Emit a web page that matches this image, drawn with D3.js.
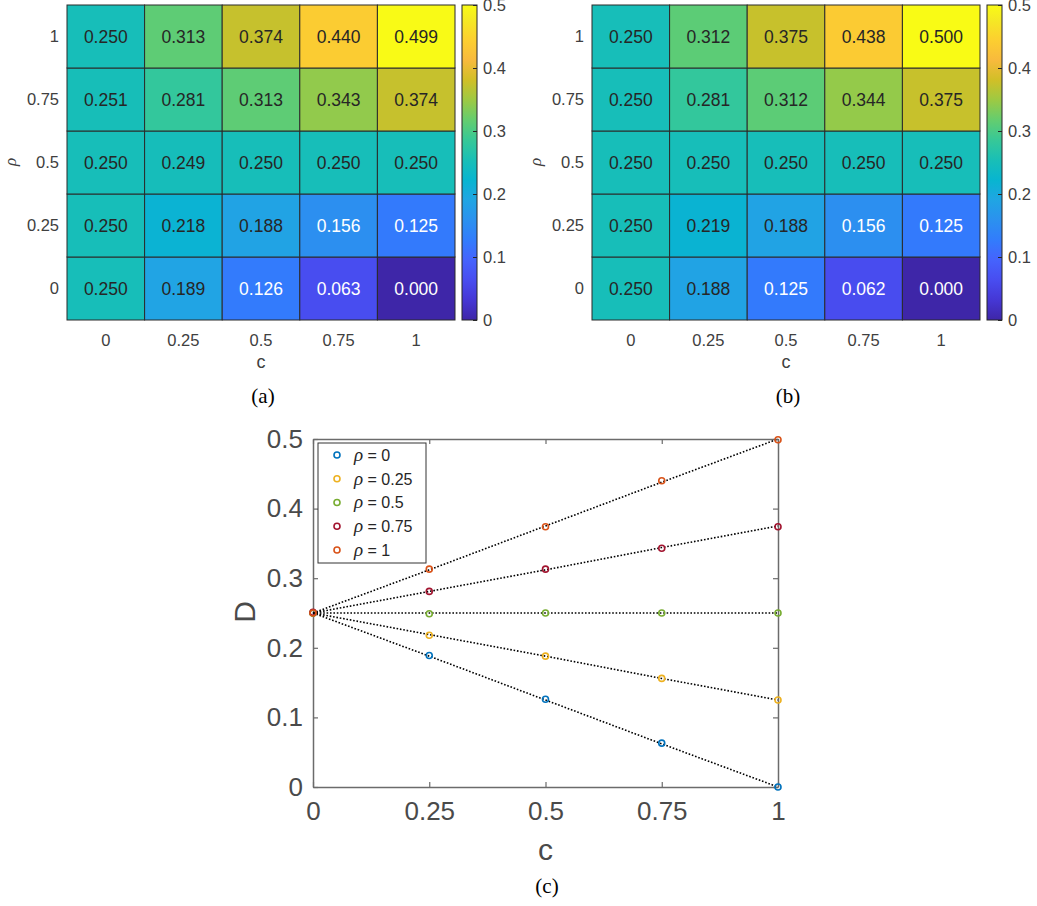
<!DOCTYPE html>
<html>
<head>
<meta charset="utf-8">
<script src="https://cdn.jsdelivr.net/npm/d3@7"></script>
<style>
body{margin:0;background:#fff}
</style>
</head>
<body>
<svg width="1037" height="906" font-family="Liberation Sans, Arial, sans-serif"></svg>
<script>
// data
var cVals=[0,0.25,0.5,0.75,1];
var cLabels=['0','0.25','0.5','0.75','1'];
var rhoLabels=['0','0.25','0.5','0.75','1'];
// rows = rho 0..1, columns = c 0..1
var simD=[[0.250,0.189,0.126,0.063,0.000],
          [0.250,0.218,0.188,0.156,0.125],
          [0.250,0.249,0.250,0.250,0.250],
          [0.251,0.281,0.313,0.343,0.374],
          [0.250,0.313,0.374,0.440,0.499]];
var theoD=[[0.250,0.188,0.125,0.062,0.000],
           [0.250,0.219,0.188,0.156,0.125],
           [0.250,0.250,0.250,0.250,0.250],
           [0.250,0.281,0.312,0.344,0.375],
           [0.250,0.312,0.375,0.438,0.500]];
var cbTicks=[0,0.1,0.2,0.3,0.4,0.5];
var dTicks=[0,0.1,0.2,0.3,0.4,0.5];
var legendNames=['0','0.25','0.5','0.75','1'];
var seriesColors=['#0072BD','#EDB120','#77AC30','#A2142F','#D95319'];

// parula colour table (every 4th entry)
var parula=[[0.2422,0.1504,0.6603],[0.2706,0.2147,0.8364],[0.2813,0.3006,0.9414],[0.2699,0.3892,0.9906],
 [0.1963,0.4847,0.9892],[0.1687,0.5703,0.9359],[0.1248,0.6459,0.8883],[0.0297,0.7082,0.8163],
 [0.0964,0.7500,0.7120],[0.2161,0.7843,0.5923],[0.3909,0.8029,0.4354],[0.6174,0.7876,0.2612],
 [0.8203,0.7498,0.1535],[0.9728,0.7298,0.2394],[0.9892,0.8136,0.1885],[0.9597,0.9135,0.1423],[0.9769,0.9839,0.0805]];
var parPos=[0,4,8,12,16,20,24,28,32,36,40,44,48,52,56,60,63].map(function(i){return i/63;});
var parCol=parula.map(function(p){return d3.rgb(p[0]*255,p[1]*255,p[2]*255).formatHex();});
var color=d3.scaleLinear().domain(parPos.map(function(p){return p*0.5;})).range(parCol).clamp(true);

var svg=d3.select('svg');
var serif='Liberation Serif, Times New Roman, serif';
var grad=svg.append('defs').append('linearGradient').attr('id','par')
  .attr('x1',0).attr('y1',1).attr('x2',0).attr('y2',0);
parPos.forEach(function(p,i){grad.append('stop').attr('offset',p).attr('stop-color',parCol[i]);});

function heatmap(data,x0,x1,cap){
  var g=svg.append('g');
  var x=d3.scaleBand().domain(cLabels).range([x0,x1]);
  var y=d3.scaleBand().domain(rhoLabels).range([320,5]);
  var cells=[];
  data.forEach(function(row,i){row.forEach(function(v,j){cells.push({r:rhoLabels[i],c:cLabels[j],v:v});});});
  g.selectAll('rect.cell').data(cells).enter().append('rect')
    .attr('x',function(d){return x(d.c);}).attr('y',function(d){return y(d.r);})
    .attr('width',x.bandwidth()).attr('height',y.bandwidth())
    .attr('fill',function(d){return color(d.v);})
    .attr('stroke','#2b2b2b').attr('stroke-width',1);
  g.selectAll('text.val').data(cells).enter().append('text')
    .attr('x',function(d){return x(d.c)+x.bandwidth()/2;})
    .attr('y',function(d){return y(d.r)+y.bandwidth()/2;})
    .attr('dy','0.36em').attr('text-anchor','middle').attr('font-size',17.5)
    .attr('fill',function(d){var k=d3.rgb(color(d.v));
      return (0.299*k.r+0.587*k.g+0.114*k.b)/255<0.505?'#ffffff':'#262626';})
    .text(function(d){return d.v.toFixed(3);});

  var ax=g.append('g').attr('transform','translate(0,320)')
    .call(d3.axisBottom(x).tickSize(0).tickPadding(14));
  var ay=g.append('g').attr('transform','translate('+x0+',0)')
    .call(d3.axisLeft(y).tickSize(0).tickPadding(8));
  [ax,ay].forEach(function(a){a.select('.domain').remove();
    a.attr('font-family',null).attr('font-size',null);
    a.selectAll('text').attr('font-size',16.5).attr('fill','#404040');});
  g.append('text').attr('x',(x0+x1)/2).attr('y',368).attr('text-anchor','middle')
    .attr('font-size',18).attr('fill','#404040').text('c');
  g.append('text').attr('transform','translate('+(x0-51)+',162) rotate(-90)').attr('text-anchor','middle')
    .attr('font-size',17).attr('font-style','italic').attr('font-family',serif)
    .attr('fill','#404040').text('ρ');

  // colorbar
  var cbx=x1+7, cbw=15;
  var cb=d3.scaleLinear().domain([0,0.5]).range([320,5]);
  g.append('rect').attr('x',cbx).attr('y',5).attr('width',cbw).attr('height',315)
    .attr('fill','url(#par)').attr('stroke','#262626').attr('stroke-width',1);
  var ac=g.append('g').attr('transform','translate('+(cbx+cbw)+',0)')
    .call(d3.axisRight(cb).tickValues(cbTicks).tickSize(-4).tickPadding(6).tickFormat(function(d){return String(d);}));
  ac.select('.domain').remove();
  ac.attr('font-family',null).attr('font-size',null);
  ac.selectAll('line').attr('stroke','#262626');
  ac.selectAll('text').attr('font-size',16.5).attr('fill','#404040');

  svg.append('text').attr('x',(x0+x1)/2+2).attr('y',403).attr('text-anchor','middle')
    .attr('font-family',serif).attr('font-size',21).attr('fill','#000').text(cap);
}
heatmap(simD,67,455,'(a)');
heatmap(theoD,592,980,'(b)');

// line plot (c)
var px=d3.scaleLinear().domain([0,1]).range([313,778]);
var py=d3.scaleLinear().domain([0,0.5]).range([787,439]);
var gc=svg.append('g');
var axStyle=function(a){a.attr('font-family',null).attr('font-size',null);
  a.select('.domain').attr('stroke','#6b6b6b').attr('stroke-width',1.5);
  a.selectAll('line').attr('stroke','#6b6b6b').attr('stroke-width',1.2);
  a.selectAll('text').attr('font-size',26).attr('fill','#4a4a4a');};
gc.append('g').attr('transform','translate(0,787)')
  .call(d3.axisBottom(px).tickValues(cVals).tickFormat(function(d,i){return cLabels[i];}).tickSize(-5).tickSizeOuter(0).tickPadding(15)).call(axStyle);
gc.append('g').attr('transform','translate(0,439)')
  .call(d3.axisTop(px).tickValues(cVals).tickFormat('').tickSize(-5).tickSizeOuter(0)).call(axStyle);
gc.append('g').attr('transform','translate(313,0)')
  .call(d3.axisLeft(py).tickValues(dTicks).tickFormat(function(d){return String(d);}).tickSize(-5).tickSizeOuter(0).tickPadding(10)).call(axStyle);
gc.append('g').attr('transform','translate(778,0)')
  .call(d3.axisRight(py).tickValues(dTicks).tickFormat('').tickSize(-5).tickSizeOuter(0)).call(axStyle);

var line=d3.line().x(function(d,i){return px(cVals[i]);}).y(function(d){return py(d);});
gc.selectAll('path.fit').data(theoD).enter().append('path')
  .attr('d',line).attr('fill','none').attr('stroke','#000').attr('stroke-width',1.6)
  .attr('stroke-dasharray','1.6,1.8');
simD.forEach(function(row,s){
  gc.selectAll('circle.s'+s).data(row).enter().append('circle')
    .attr('cx',function(d,i){return px(cVals[i]);}).attr('cy',function(d){return py(d);})
    .attr('r',3).attr('fill','none').attr('stroke',seriesColors[s]).attr('stroke-width',1.6);
});

gc.append('text').attr('x',px(0.5)).attr('y',860).attr('text-anchor','middle')
  .attr('font-size',30).attr('fill','#4a4a4a').text('c');
gc.append('text').attr('transform','translate(255,612) rotate(-90)').attr('text-anchor','middle')
  .attr('font-size',30).attr('fill','#4a4a4a').text('D');

// legend
var lg=gc.append('g');
lg.append('rect').attr('x',318).attr('y',443).attr('width',108).attr('height',120)
  .attr('fill','#fff').attr('stroke','#333').attr('stroke-width',1);
var ly=d3.scalePoint().domain(legendNames).range([455,550]);
legendNames.forEach(function(n,i){
  lg.append('circle').attr('cx',337).attr('cy',ly(n)).attr('r',3).attr('fill','none')
    .attr('stroke',seriesColors[i]).attr('stroke-width',1.6);
  var t=lg.append('text').attr('x',354).attr('y',ly(n)).attr('dy','0.36em').attr('font-size',16).attr('fill','#262626');
  t.append('tspan').attr('font-family',serif).attr('font-style','italic').attr('font-size',19).text('ρ');
  t.append('tspan').text(' = '+n);
});

svg.append('text').attr('x',547).attr('y',893).attr('text-anchor','middle')
  .attr('font-family',serif).attr('font-size',21).attr('fill','#000').text('(c)');
</script>
</body>
</html>
